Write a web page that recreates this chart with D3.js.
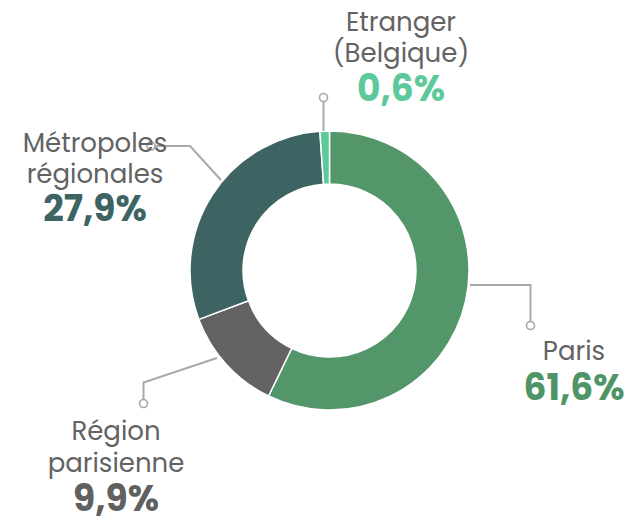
<!DOCTYPE html>
<html>
<head>
<meta charset="utf-8">
<script src="https://cdn.jsdelivr.net/npm/d3@7"></script>
<style>
  body { margin: 0; background: #fff; }
  svg text { font-family: "Poppins", Inter, "Open Sans", sans-serif; }
</style>
</head>
<body>
<div id="chart"></div>
<script>
// categories, in drawing order (clockwise from 12 o'clock)
var categories = ["Paris", "Région parisienne", "Métropoles régionales", "Etranger (Belgique)"];
// share printed in the labels (%)
var shares = [61.6, 9.9, 27.9, 0.6];
// arc sizes as drawn in the reference (%)
var arcSizes = [57.2, 12.1, 29.6, 1.1];
var labelLines = [["Paris"], ["Région", "parisienne"], ["Métropoles", "régionales"], ["Etranger", "(Belgique)"]];
var colors = ["#52966a", "#626262", "#3d6462", "#5cc99b"];
var textColors = ["#4f9466", "#606060", "#3d6462", "#5cc99b"];

var width = 633, height = 518;
var cx = 329.5, cy = 270.5;
var rOuter = 139.5, rInner = 86.5;

var svg = d3.select("#chart").append("svg")
    .attr("width", width)
    .attr("height", height);

var pie = d3.pie().sort(null).value(function(d){ return d; });
var arcs = pie(arcSizes);
var arc = d3.arc().innerRadius(rInner).outerRadius(rOuter);

var g = svg.append("g").attr("transform", "translate(" + cx + "," + cy + ")");

// leader lines (drawn first, text sits on top)
var leaders = [
    {pts: [[470, 285], [530.5, 285], [530.5, 321]], dot: [530.5, 325.5]},
    {pts: [[217, 358], [143.5, 382.5], [143.5, 399]], dot: [143.5, 403.5]},
    {pts: [[221, 180], [190, 146], [155, 146]], dot: [151, 146]},
    {pts: [[323.5, 131], [323.5, 102]], dot: [323.5, 97.5]}
];

svg.selectAll(".leader")
    .data(leaders)
    .enter()
    .append("polyline")
    .attr("class", "leader")
    .attr("points", function(d){ return d.pts.map(function(p){ return p.join(","); }).join(" "); })
    .attr("fill", "none")
    .attr("stroke", "#a9a9a9")
    .attr("stroke-width", 2);

svg.selectAll(".dot")
    .data(leaders)
    .enter()
    .append("circle")
    .attr("class", "dot")
    .attr("cx", function(d){ return d.dot[0]; })
    .attr("cy", function(d){ return d.dot[1]; })
    .attr("r", 4)
    .attr("fill", "#fff")
    .attr("stroke", "#a9a9a9")
    .attr("stroke-width", 1.6);

// donut
g.selectAll("path")
    .data(arcs)
    .enter()
    .append("path")
    .attr("d", arc)
    .attr("fill", function(d, i){ return colors[i]; })
    .attr("stroke", "#fff")
    .attr("stroke-width", 1.5);

// label positions: center x, baseline of first line, line step, baseline of percent
var labelPos = [
    {x: 574, y: 360, step: 31, py: 400},
    {x: 116, y: 440, step: 31.5, py: 511},
    {x: 95, y: 152, step: 31, py: 221},
    {x: 401, y: 30.5, step: 31.5, py: 101}
];

var fmt = function(v){ return d3.format(".1f")(v).replace(".", ",") + "%"; };

categories.forEach(function(c, i){
    var p = labelPos[i];
    labelLines[i].forEach(function(line, j){
        svg.append("text")
            .attr("x", p.x)
            .attr("y", p.y + j * p.step)
            .attr("text-anchor", "middle")
            .attr("font-size", 26)
            .attr("fill", "#636363")
            .text(line);
    });
    svg.append("text")
        .attr("x", p.x)
        .attr("y", p.py)
        .attr("text-anchor", "middle")
        .attr("font-size", 36)
        .attr("font-weight", 700)
        .attr("fill", textColors[i])
        .text(fmt(shares[i]));
});
</script>
</body>
</html>
